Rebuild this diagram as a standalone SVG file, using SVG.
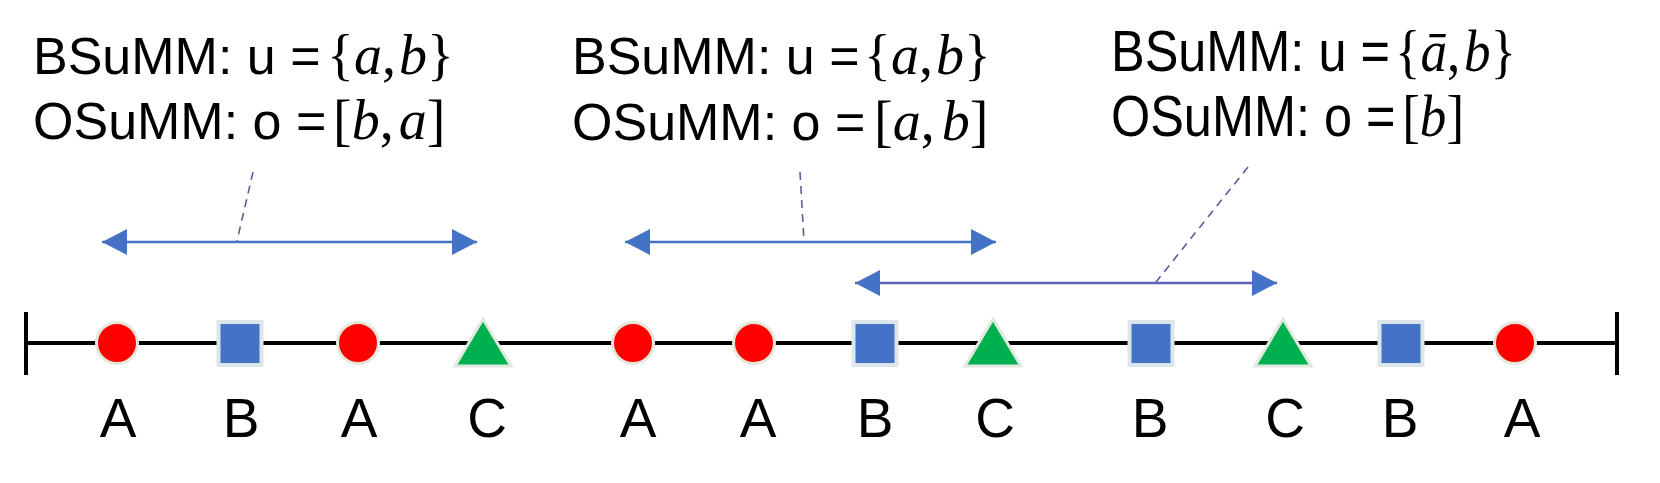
<svg xmlns="http://www.w3.org/2000/svg" width="1660" height="483" viewBox="0 0 1660 483">
<style>
.t{font-family:"Liberation Sans",Arial,sans-serif;font-size:52px;fill:#000}
.m{font-family:"Liberation Serif","Times New Roman",serif;font-size:56px}
.m3{font-family:"Liberation Serif","Times New Roman",serif;font-size:60px}
.i{font-style:italic}
.lbl{font-family:"Liberation Sans",Arial,sans-serif;font-size:55px;fill:#000;text-anchor:middle}
.arr{stroke:#4472C4;stroke-width:2.5;fill:none;marker-start:url(#ah);marker-end:url(#ah)}
.arr3{stroke:#5A62B8;stroke-width:2.5;fill:none;marker-start:url(#ah);marker-end:url(#ah)}
.dash{stroke:#5A5F9A;stroke-width:1.6;stroke-dasharray:8 6;fill:none}
.axis{stroke:#000;stroke-width:4;fill:none}
.ca{fill:#FF0000;stroke:#E4E8DA;stroke-width:3}
.sb{fill:#4472C4;stroke:#DDE6EA;stroke-width:4}
.tc{fill:#00B050;stroke:#E0E9E0;stroke-width:3;stroke-linejoin:miter}
</style>
<defs>
<marker id="ah" viewBox="0 0 25 26" refX="25" refY="13" markerWidth="25" markerHeight="26" markerUnits="userSpaceOnUse" orient="auto-start-reverse">
<path d="M0,0 L25,13 L0,26 z" fill="#4472C4"/>
</marker>
</defs>

<g id="label1">
<text class="t" x="33" y="74">BSuMM: u =<tspan class="m" x="327">{</tspan><tspan class="m i">a</tspan><tspan class="m">,</tspan><tspan class="m i" dx="3">b</tspan><tspan class="m">}</tspan></text>
<text class="t" x="33" y="139">OSuMM: o =<tspan class="m" x="333">[</tspan><tspan class="m i">b</tspan><tspan class="m">,</tspan><tspan class="m i" dx="5">a</tspan><tspan class="m">]</tspan></text>
</g>

<g id="label2">
<text class="t" x="572" y="74">BSuMM: u =<tspan class="m" x="864">{</tspan><tspan class="m i">a</tspan><tspan class="m">,</tspan><tspan class="m i" dx="3">b</tspan><tspan class="m">}</tspan></text>
<text class="t" x="572" y="140">OSuMM: o =<tspan class="m" x="874">[</tspan><tspan class="m i">a</tspan><tspan class="m">,</tspan><tspan class="m i" dx="7">b</tspan><tspan class="m">]</tspan></text>
</g>

<g id="label3" transform="translate(1111,0) scale(0.885,1)">
<text class="t" x="0" y="71" style="font-size:57px">BSuMM: u =<tspan class="m3" x="321">{</tspan><tspan class="m3 i">ā</tspan><tspan class="m3">,</tspan><tspan class="m3 i" dx="4">b</tspan><tspan class="m3">}</tspan></text>
<text class="t" x="0" y="136" style="font-size:57px">OSuMM: o =<tspan class="m3" x="329">[</tspan><tspan class="m3 i">b</tspan><tspan class="m3">]</tspan></text>
</g>

<g id="connectors">
<line class="dash" x1="253" y1="172" x2="237" y2="241"/>
<line class="dash" x1="800" y1="172" x2="804" y2="241"/>
<line class="dash" x1="1248" y1="167" x2="1156" y2="282"/>
<line class="arr" x1="102" y1="242" x2="477" y2="242"/>
<line class="arr" x1="625" y1="242" x2="996" y2="242"/>
<line class="arr3" x1="855" y1="283" x2="1277" y2="283"/>
</g>

<g id="timeline">
<line class="axis" x1="26" y1="343" x2="1617" y2="343"/>
<line class="axis" x1="26" y1="312" x2="26" y2="375"/>
<line class="axis" x1="1617" y1="312" x2="1617" y2="375"/>
</g>

<g id="n1"><circle class="ca" cx="117" cy="343" r="20.5"/><text class="lbl" x="118" y="437">A</text></g>
<g id="n2"><rect class="sb" x="218.5" y="322" width="43" height="43"/><text class="lbl" x="241" y="437">B</text></g>
<g id="n3"><circle class="ca" cx="358" cy="343" r="20.5"/><text class="lbl" x="359" y="437">A</text></g>
<g id="n4"><polygon class="tc" points="483,319 455,366 511,366"/><text class="lbl" x="487" y="437">C</text></g>
<g id="n5"><circle class="ca" cx="633" cy="343" r="20.5"/><text class="lbl" x="638" y="437">A</text></g>
<g id="n6"><circle class="ca" cx="754" cy="343" r="20.5"/><text class="lbl" x="758" y="437">A</text></g>
<g id="n7"><rect class="sb" x="853.5" y="322" width="43" height="43"/><text class="lbl" x="875" y="437">B</text></g>
<g id="n8"><polygon class="tc" points="993,319 965,366 1021,366"/><text class="lbl" x="995" y="437">C</text></g>
<g id="n9"><rect class="sb" x="1129.5" y="322" width="43" height="43"/><text class="lbl" x="1150" y="437">B</text></g>
<g id="n10"><polygon class="tc" points="1283,319 1255,366 1311,366"/><text class="lbl" x="1285" y="437">C</text></g>
<g id="n11"><rect class="sb" x="1379.5" y="322" width="43" height="43"/><text class="lbl" x="1400" y="437">B</text></g>
<g id="n12"><circle class="ca" cx="1515" cy="343" r="20.5"/><text class="lbl" x="1522" y="437">A</text></g>
</svg>
